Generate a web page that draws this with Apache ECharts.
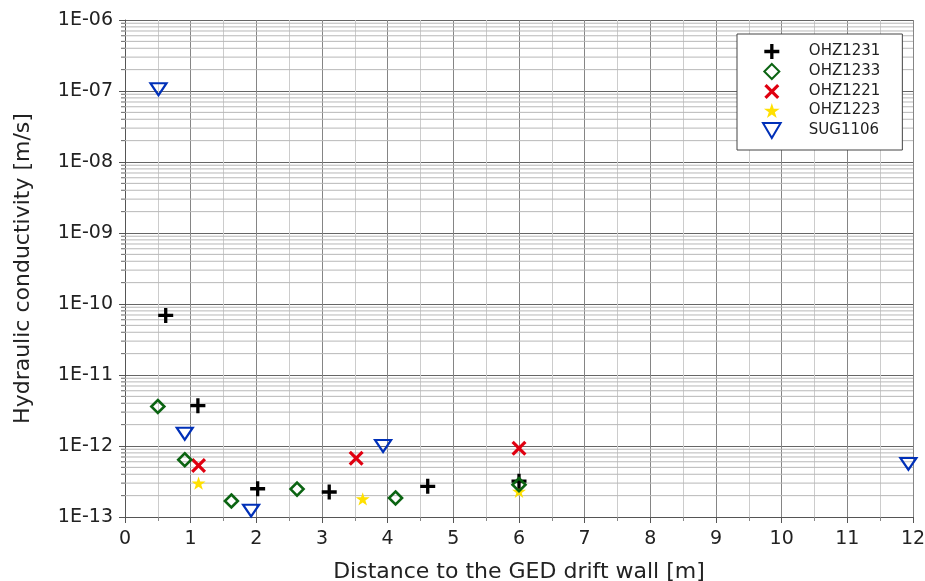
<!DOCTYPE html>
<html>
<head>
<meta charset="utf-8">
<script src="https://cdn.jsdelivr.net/npm/echarts@6/dist/echarts.min.js"></script>
<style>
html,body{margin:0;padding:0;background:#fff;}
#chart{width:925px;height:581px;}
</style>
</head>
<body>
<div id="chart"></div>
<script>
// ---- data ----
const seriesNames = ['OHZ1231', 'OHZ1233', 'OHZ1221', 'OHZ1223', 'SUG1106'];

const ohz1231Dist = [0.62, 1.11, 2.02, 3.11, 4.61, 6.0];
const ohz1231K    = [6.9e-11, 3.7e-12, 2.5e-13, 2.25e-13, 2.7e-13, 3.2e-13];

const ohz1233Dist = [0.5, 0.91, 1.62, 2.62, 4.12, 6.0];
const ohz1233K    = [3.6e-12, 6.4e-13, 1.68e-13, 2.47e-13, 1.85e-13, 2.85e-13];

const ohz1221Dist = [1.12, 3.52, 6.0];
const ohz1221K    = [5.3e-13, 6.7e-13, 9.3e-13];

const ohz1223Dist = [1.12, 3.62, 6.0];
const ohz1223K    = [3.0e-13, 1.8e-13, 2.3e-13];

const sug1106Dist = [0.51, 0.91, 1.92, 3.93, 11.93];
const sug1106K    = [1.06e-7, 1.49e-12, 1.23e-13, 1.0e-12, 5.6e-13];

const xTicks = [0, 1, 2, 3, 4, 5, 6, 7, 8, 9, 10, 11, 12];
const yDecades = [1e-13, 1e-12, 1e-11, 1e-10, 1e-9, 1e-8, 1e-7, 1e-6];
const minorMultipliers = [2, 3, 4, 5, 6, 7, 8, 9];

// ---- helpers ----
function pairs(xs, ys) { return xs.map((x, i) => [x, ys[i]]); }

const xMin = xTicks[0];
const xMax = xTicks[xTicks.length - 1];
const minorValues = [];
yDecades.slice(0, -1).forEach(d => {
  minorMultipliers.forEach(m => minorValues.push([xMin, d * m]));
});

const FONT = 'DejaVu Sans';
const PLUS = 'path://M3.9,0H6.1V3.9H10V6.1H6.1V10H3.9V6.1H0V3.9H3.9Z';
const CROSS = 'path://M0,1.5L1.5,0L5,3.5L8.5,0L10,1.5L6.5,5L10,8.5L8.5,10L5,6.5L1.5,10L0,8.5L3.5,5Z';
const DIAMOND = 'path://M5,0L10,5L5,10L0,5Z';
const STAR = 'path://M50,0L61.2,34.5L97.6,34.5L68.2,55.9L79.4,90.5L50,69.1L20.6,90.5L31.8,55.9L2.4,34.5L38.8,34.5Z';
const TRI_DOWN = 'path://M0,0L10,0L5,8.5Z';

function fmtExp(v) {
  const e = Math.round(Math.log10(v));
  return '1E' + (e < 0 ? '-' : '+') + String(Math.abs(e)).padStart(2, '0');
}

const chart = echarts.init(document.getElementById('chart'), null, { renderer: 'canvas' });

const option = {
  animation: false,
  backgroundColor: '#ffffff',
  textStyle: { fontFamily: FONT },
  grid: { left: 125, right: 12, top: 20, bottom: 64, containLabel: false, outerBoundsMode: 'none' },
  legend: {
    data: seriesNames,
    orient: 'vertical',
    left: 737,
    top: 34,
    itemWidth: 64,
    itemHeight: 15,
    itemGap: 4,
    padding: [10, 22, 11, 25],
    backgroundColor: '#ffffff',
    borderColor: '#444',
    borderWidth: 1,
    borderRadius: 0,
    symbolKeepAspect: true,
    textStyle: { fontFamily: FONT, fontSize: 15, color: '#222' }
  },
  xAxis: {
    type: 'value',
    min: 0,
    max: 12,
    interval: 1,
    name: 'Distance to the GED drift wall [m]',
    nameLocation: 'middle',
    nameGap: 44,
    nameTextStyle: { fontFamily: FONT, fontSize: 22, color: '#222' },
    axisLine: { show: true, onZero: false, lineStyle: { color: '#555', width: 1 } },
    axisTick: { show: true, length: 6, lineStyle: { color: '#555' } },
    minorTick: { show: true, splitNumber: 2, length: 4, lineStyle: { color: '#888' } },
    axisLabel: { fontFamily: FONT, fontSize: 19, color: '#222', margin: 13 },
    splitLine: { show: true, lineStyle: { color: '#858585', width: 1 } },
    minorSplitLine: { show: true, lineStyle: { color: '#cccccc', width: 1 } }
  },
  yAxis: {
    type: 'log',
    logBase: 10,
    min: 1e-13,
    max: 1e-6,
    splitNumber: 7,
    name: 'Hydraulic conductivity [m/s]',
    nameLocation: 'middle',
    nameGap: 91,
    nameTextStyle: { fontFamily: FONT, fontSize: 22, color: '#222' },
    axisLine: { show: true, lineStyle: { color: '#555', width: 1 } },
    axisTick: { show: true, length: 6, lineStyle: { color: '#555' } },
    axisLabel: { fontFamily: FONT, fontSize: 19, color: '#222', margin: 12, formatter: fmtExp },
    splitLine: { show: true, lineStyle: { color: '#666666', width: 1 } }
  },
  series: [
    {
      name: 'minor-grid',
      type: 'custom',
      z: 1,
      silent: true,
      clip: false,
      encode: { x: 0, y: 1 },
      data: minorValues,
      renderItem: function (params, api) {
        const v = api.value(1);
        const p0 = api.coord([xMin, v]);
        const p1 = api.coord([xMax, v]);
        return {
          type: 'group',
          children: [
            { type: 'line', shape: { x1: p0[0], y1: p0[1], x2: p1[0], y2: p1[1] },
              style: { stroke: '#b8b8b8', lineWidth: 1 } },
            { type: 'line', shape: { x1: p0[0] - 4, y1: p0[1], x2: p0[0], y2: p0[1] },
              style: { stroke: '#666', lineWidth: 1 } }
          ]
        };
      }
    },
    {
      name: 'OHZ1231', type: 'scatter', z: 5,
      symbol: PLUS, symbolSize: 15, symbolKeepAspect: true,
      itemStyle: { color: '#000000', opacity: 1 },
      data: pairs(ohz1231Dist, ohz1231K)
    },
    {
      name: 'OHZ1233', type: 'scatter', z: 6,
      symbol: DIAMOND, symbolSize: 13, symbolKeepAspect: true,
      itemStyle: { color: 'rgba(0,0,0,0)', borderColor: '#0b6412', borderWidth: 2.6, opacity: 1 },
      data: pairs(ohz1233Dist, ohz1233K)
    },
    {
      name: 'OHZ1221', type: 'scatter', z: 5,
      symbol: CROSS, symbolSize: 15, symbolKeepAspect: true,
      itemStyle: { color: '#e00010', opacity: 1 },
      data: pairs(ohz1221Dist, ohz1221K)
    },
    {
      name: 'OHZ1223', type: 'scatter', z: 4,
      symbol: STAR, symbolSize: 14, symbolKeepAspect: true,
      itemStyle: { color: '#ffe000', opacity: 1 },
      data: pairs(ohz1223Dist, ohz1223K)
    },
    {
      name: 'SUG1106', type: 'scatter', z: 5,
      symbol: TRI_DOWN, symbolSize: [16, 14], symbolKeepAspect: true,
      itemStyle: { color: 'rgba(0,0,0,0)', borderColor: '#0030b8', borderWidth: 2.2, opacity: 1 },
      data: pairs(sug1106Dist, sug1106K)
    }
  ]
};

chart.setOption(option);
</script>
</body>
</html>
